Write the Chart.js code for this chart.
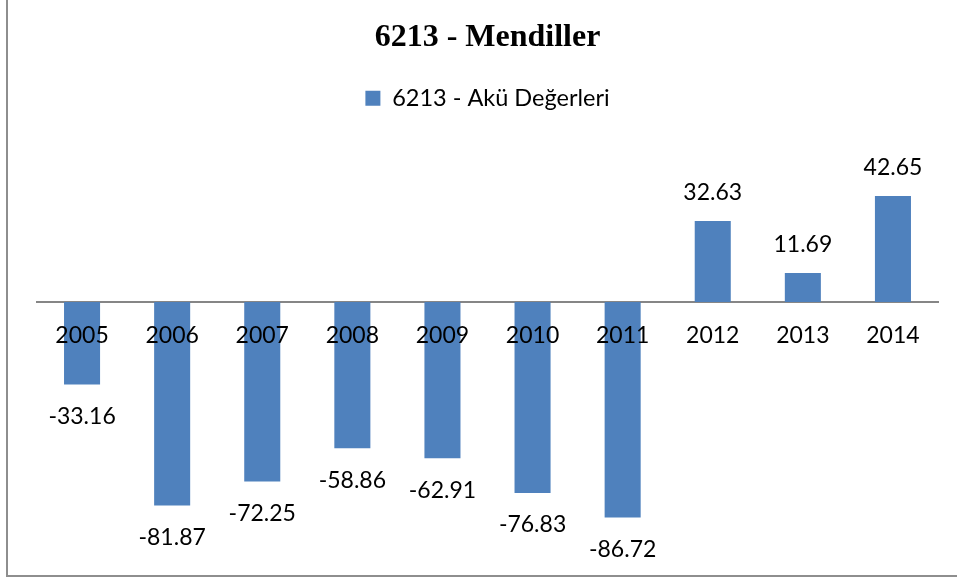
<!DOCTYPE html>
<html>
<head>
<meta charset="utf-8">
<script src="https://cdn.jsdelivr.net/npm/chart.js@4"></script>
<style>
  html, body { margin: 0; padding: 0; background: #fff; }
  #wrap { position: relative; width: 957px; height: 582px; overflow: hidden; }
  #frame {
    position: absolute; left: 6px; top: -10px; width: 960px; height: 587px;
    border-left: 2px solid #8e8e8e; border-bottom: 2px solid #8e8e8e;
    box-sizing: border-box; pointer-events: none;
  }
</style>
</head>
<body>
<div id="wrap">
  <canvas id="chart" width="957" height="582"></canvas>
  <div id="frame"></div>
</div>
<script>
const years = ["2005", "2006", "2007", "2008", "2009", "2010", "2011", "2012", "2013", "2014"];
const akuValues = [-33.16, -81.87, -72.25, -58.86, -62.91, -76.83, -86.72, 32.63, 11.69, 42.65];
const seriesName = "6213 - Akü Değerleri";
const chartTitle = "6213 - Mendiller";

Chart.defaults.font.family = "Lato, 'Open Sans', sans-serif";
Chart.defaults.color = "#000";

// value labels above positive bars, below negative ones
const barValues = {
  id: "barValues",
  afterDatasetsDraw(chart) {
    const ctx = chart.ctx;
    const meta = chart.getDatasetMeta(0);
    ctx.save();
    ctx.font = "23px Lato, 'Open Sans', sans-serif";
    ctx.fillStyle = "#000";
    ctx.textAlign = "center";
    ctx.textBaseline = "middle";
    meta.data.forEach((bar, i) => {
      const v = akuValues[i];
      const y = v >= 0 ? bar.y - 28 : bar.y + 32;
      ctx.fillText(v.toFixed(2), bar.x, y);
    });
    ctx.restore();
  }
};

new Chart(document.getElementById("chart"), {
  type: "bar",
  data: {
    labels: years,
    datasets: [{
      label: seriesName,
      data: akuValues,
      backgroundColor: "#4f81bd",
      borderWidth: 0,
      barPercentage: 0.4,
      categoryPercentage: 1
    }]
  },
  options: {
    responsive: false,
    animation: false,
    layout: { padding: { left: 37, right: 19, top: 0, bottom: 31.5 } },
    plugins: {
      title: {
        display: true,
        text: chartTitle,
        font: { family: "'Liberation Serif', 'Times New Roman', serif", size: 32, weight: "bold" },
        color: "#000",
        padding: { top: 19, bottom: 19 }
      },
      legend: {
        display: true,
        labels: { boxWidth: 15, boxHeight: 15, padding: 10, font: { size: 23.5 } }
      },
      tooltip: { enabled: false }
    },
    scales: {
      y: {
        display: false,
        min: -100,
        max: 73.3
      },
      x: {
        // year labels sit on the zero line, drawn over the bars
        position: { y: 0 },
        grid: { display: false, drawTicks: false },
        border: { display: true, color: "#868686", width: 2 },
        ticks: { z: 1, padding: 20, font: { size: 23 }, maxRotation: 0 }
      }
    }
  },
  plugins: [barValues]
});
</script>
</body>
</html>
